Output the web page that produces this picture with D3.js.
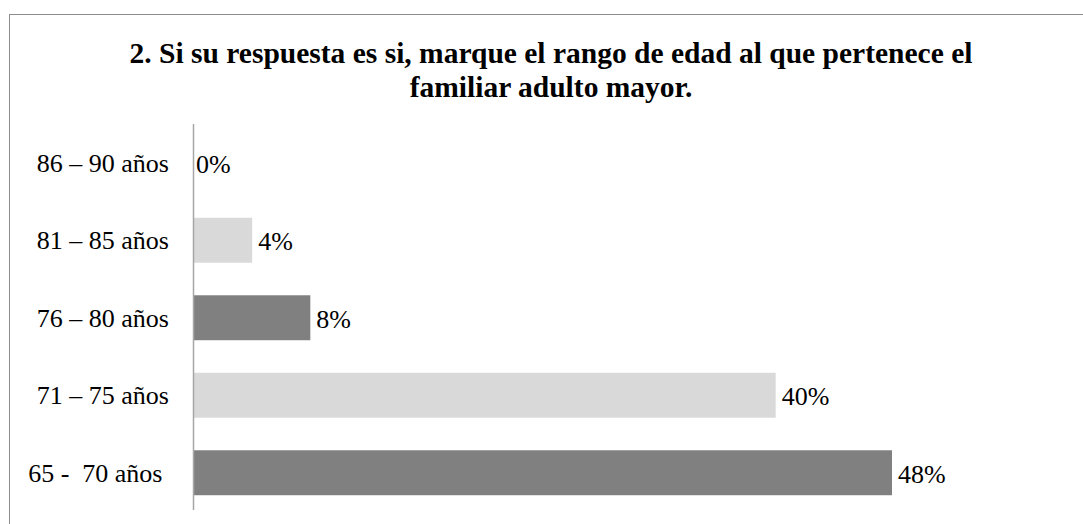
<!DOCTYPE html>
<html>
<head>
<meta charset="utf-8">
<script src="https://cdn.jsdelivr.net/npm/d3@7"></script>
<style>
  html, body { margin: 0; padding: 0; background: #fff; }
</style>
</head>
<body>
<svg id="chart" width="1083" height="524"></svg>
<script>
// Age ranges of the older family member, top to bottom
const categories = ["86 – 90 años", "81 – 85 años", "76 – 80 años", "71 – 75 años", "65 -  70 años "];
const percentages = [0, 4, 8, 40, 48];
const barColors = ["#d9d9d9", "#d9d9d9", "#808080", "#d9d9d9", "#808080"];
const titleLines = [
  "2. Si su respuesta es si, marque el rango de edad al que pertenece el",
  "familiar adulto mayor."
];

const FONT = "Liberation Serif";
const svg = d3.select("#chart");

// Outer chart frame
svg.append("rect")
  .attr("x", 9.5).attr("y", 14.5)
  .attr("width", 1090).attr("height", 520)
  .attr("fill", "none").attr("stroke", "#8c8c8c").attr("stroke-width", 1);

// Title
svg.append("text")
  .attr("x", 551).attr("y", 63)
  .attr("text-anchor", "middle")
  .style("font-family", FONT)
  .attr("font-weight", "bold").attr("font-size", 29.5)
  .attr("fill", "#000")
  .selectAll("tspan").data(titleLines).join("tspan")
  .attr("x", 551).attr("dy", (d, i) => i === 0 ? 0 : 34)
  .text(d => d);

const x = d3.scaleLinear().domain([0, 48]).range([194, 892]);
const y = d3.scaleBand().domain(categories).range([124, 511.5]).paddingInner(0.42).paddingOuter(0.21);

// Bars
svg.append("g").selectAll("rect").data(categories).join("rect")
  .attr("x", x(0))
  .attr("y", d => y(d))
  .attr("width", (d, i) => x(percentages[i]) - x(0))
  .attr("height", y.bandwidth())
  .attr("fill", (d, i) => barColors[i]);

// Category axis (line only, labels drawn separately)
const yAxis = svg.append("g")
  .attr("transform", `translate(${x(0) - 0.5},0)`)
  .call(d3.axisLeft(y).tickSize(0).tickFormat(""));
yAxis.select(".domain").attr("stroke", "#a6a6a6").attr("stroke-width", 1.5)
  .attr("d", `M0,124V510`);

svg.append("g").selectAll("text").data(categories).join("text")
  .attr("x", 169)
  .attr("y", d => y(d) + y.bandwidth() / 2 + 9)
  .attr("text-anchor", "end")
  .style("font-family", FONT)
  .attr("font-size", 26)
  .attr("fill", "#000")
  .style("white-space", "pre")
  .text(d => d);

// Value labels
svg.append("g").selectAll("text").data(categories).join("text")
  .attr("x", (d, i) => x(percentages[i]) + (percentages[i] === 0 ? 2 : 6))
  .attr("y", d => y(d) + y.bandwidth() / 2 + 10)
  .style("font-family", FONT)
  .attr("font-size", 26)
  .attr("fill", "#000")
  .text((d, i) => percentages[i] + "%");
</script>
</body>
</html>
